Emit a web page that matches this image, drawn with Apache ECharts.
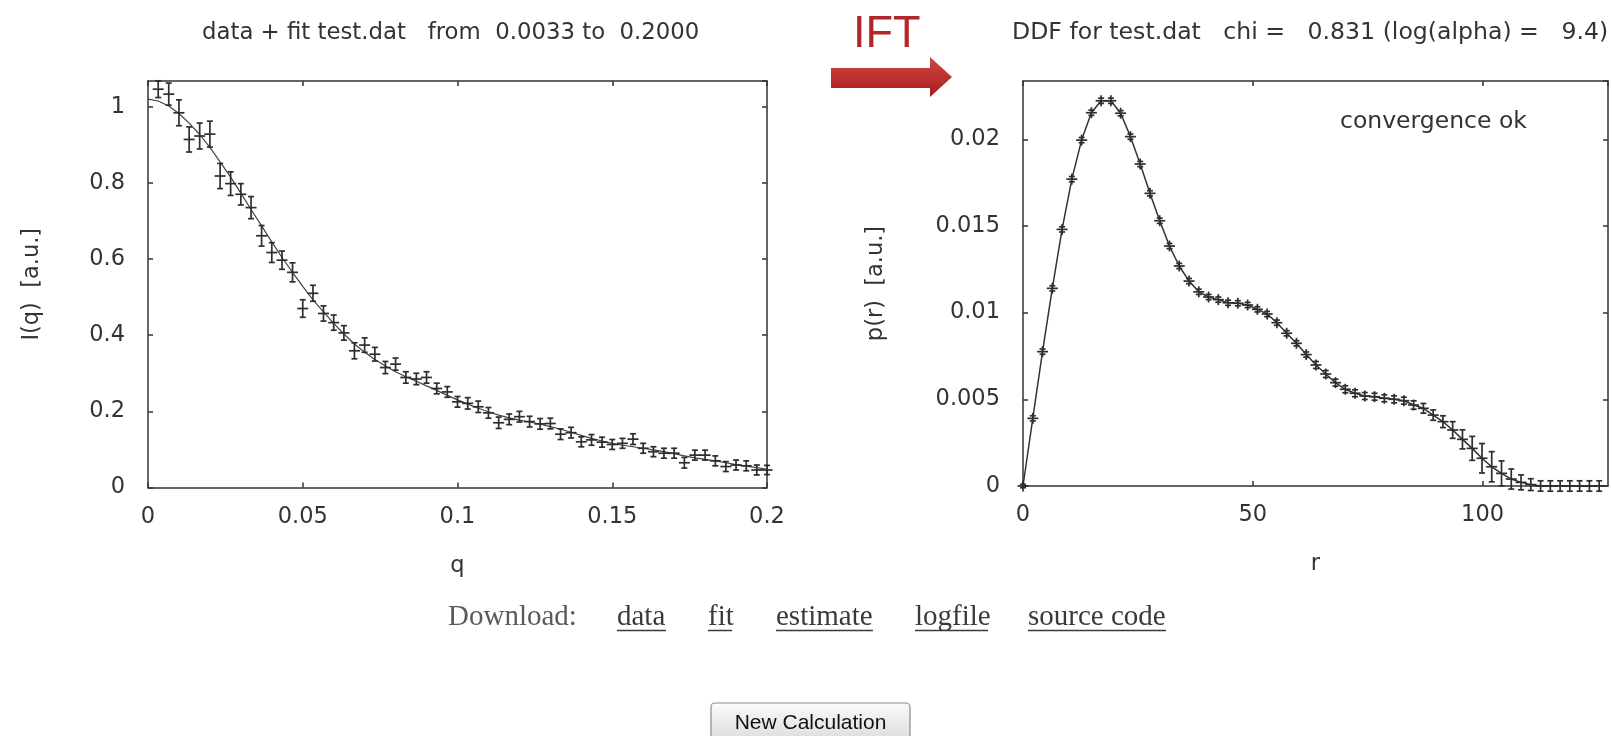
<!DOCTYPE html>
<html>
<head>
<meta charset="utf-8">
<script src="https://cdn.jsdelivr.net/npm/echarts@6/dist/echarts.min.js"></script>
<style>
html,body{margin:0;padding:0;background:#fff;}
#c{width:1612px;height:736px;}
</style>
</head>
<body>
<div id="c"></div>
<script>
// ---- left panel: data + fit ----
const qVals = [0.0033,0.0067,0.0100,0.0133,0.0167,0.0200,0.0233,0.0267,0.0300,0.0333,
  0.0367,0.0400,0.0433,0.0467,0.0500,0.0533,0.0567,0.0600,0.0633,0.0667,
  0.0700,0.0733,0.0767,0.0800,0.0833,0.0867,0.0900,0.0933,0.0967,0.1000,
  0.1033,0.1067,0.1100,0.1133,0.1167,0.1200,0.1233,0.1267,0.1300,0.1333,
  0.1367,0.1400,0.1433,0.1467,0.1500,0.1533,0.1567,0.1600,0.1633,0.1667,
  0.1700,0.1733,0.1767,0.1800,0.1833,0.1867,0.1900,0.1933,0.1967,0.2000];
const iVals = [1.046,1.033,0.984,0.914,0.923,0.928,0.818,0.798,0.770,0.735,
  0.661,0.617,0.597,0.565,0.470,0.510,0.457,0.433,0.406,0.359,
  0.374,0.350,0.315,0.324,0.289,0.285,0.289,0.260,0.251,0.225,
  0.221,0.212,0.196,0.170,0.179,0.186,0.173,0.167,0.168,0.140,
  0.144,0.120,0.125,0.119,0.113,0.116,0.127,0.103,0.094,0.090,
  0.090,0.065,0.085,0.085,0.070,0.055,0.059,0.057,0.046,0.046];
const iErr = [0.022,0.029,0.034,0.033,0.034,0.034,0.033,0.031,0.028,0.029,
  0.027,0.026,0.024,0.025,0.023,0.021,0.020,0.020,0.019,0.021,
  0.019,0.018,0.016,0.016,0.015,0.015,0.015,0.014,0.014,0.014,
  0.015,0.015,0.014,0.015,0.014,0.014,0.014,0.014,0.014,0.014,
  0.014,0.013,0.014,0.013,0.013,0.013,0.014,0.013,0.013,0.013,
  0.013,0.014,0.013,0.013,0.013,0.013,0.013,0.013,0.013,0.012];
const fitQ = [0,0.0033,0.0067,0.0100,0.0133,0.0167,0.0200,0.0233,0.0267,0.0300,0.0333,
  0.0367,0.0400,0.0433,0.0467,0.0500,0.0533,0.0567,0.0600,0.0633,0.0667,
  0.0700,0.0733,0.0767,0.0800,0.0833,0.0867,0.0900,0.0933,0.0967,0.1000,
  0.1033,0.1067,0.1100,0.1133,0.1167,0.1200,0.1233,0.1267,0.1300,0.1333,
  0.1367,0.1400,0.1433,0.1467,0.1500,0.1533,0.1567,0.1600,0.1633,0.1667,
  0.1700,0.1733,0.1767,0.1800,0.1833,0.1867,0.1900,0.1933,0.1967,0.2000];
const fitI = [1.020,1.015,1.002,0.982,0.957,0.927,0.893,0.855,0.815,0.773,0.730,
  0.687,0.645,0.604,0.565,0.528,0.493,0.461,0.431,0.403,0.377,
  0.355,0.336,0.319,0.304,0.291,0.279,0.267,0.255,0.242,0.230,
  0.219,0.208,0.199,0.190,0.183,0.177,0.172,0.166,0.160,0.153,
  0.145,0.137,0.129,0.122,0.116,0.111,0.107,0.103,0.099,0.094,
  0.089,0.083,0.078,0.074,0.070,0.065,0.060,0.056,0.052,0.048];

// ---- right panel: distance distribution ----
const rVals = [0,2.13,4.25,6.38,8.5,10.63,12.75,14.88,17,19.13,
  21.25,23.38,25.5,27.63,29.75,31.88,34,36.13,38.25,40.38,
  42.5,44.63,46.75,48.88,51,53.13,55.25,57.38,59.5,61.63,
  63.75,65.88,68,70.13,72.25,74.38,76.5,78.63,80.75,82.88,
  85,87.13,89.25,91.38,93.5,95.63,97.75,99.88,102,104.13,
  106.25,108.38,110.5,112.63,114.75,116.88,119,121.13,123.25,125.38];
const pVals = [0,0.0039,0.00775,0.0114,0.0148,0.0177,0.01995,0.02153,0.02222,0.02222,
  0.0215,0.02015,0.01857,0.01688,0.0153,0.01384,0.01269,0.01182,0.0112,0.0109,
  0.01075,0.01057,0.01054,0.01044,0.01019,0.00992,0.00942,0.00881,0.00823,0.00758,
  0.00698,0.00646,0.00596,0.00558,0.00535,0.00519,0.00515,0.00506,0.005,0.00492,
  0.00467,0.00448,0.00409,0.00371,0.00323,0.00269,0.00217,0.0016,0.00111,0.00073,
  0.0004,0.00021,0.00008,0,0,0,0,0,0,0];
const pErr = [0.0001,0.00015,0.00015,0.00015,0.00015,0.00015,0.00015,0.00015,0.00015,0.00015,
  0.00015,0.00015,0.00015,0.00015,0.00015,0.00015,0.00015,0.00015,0.00015,0.00015,
  0.00015,0.00015,0.00015,0.00015,0.00015,0.00015,0.00015,0.00015,0.00015,0.00015,
  0.0002,0.0002,0.0002,0.0002,0.0002,0.0002,0.0002,0.0002,0.0002,0.0002,
  0.00024,0.00028,0.0003,0.00034,0.00048,0.00055,0.00069,0.00085,0.00087,0.00072,
  0.00058,0.00043,0.00034,0.0003,0.0003,0.0003,0.0003,0.0003,0.0003,0.0003];

const leftTitle = 'data + fit test.dat   from  0.0033 to  0.2000';
const rightTitle = 'DDF for test.dat   chi =   0.831 (log(alpha) =   9.4)';
const links = ['data', 'fit', 'estimate', 'logfile', 'source code'];

const INK = '#333';
const FONT = 'DejaVu Sans';
const FS = 22.5;

function errRender(params, api) {
  const x = api.value(0), y = api.value(1), e = api.value(2);
  const c = api.coord([x, y]);
  const t = api.coord([x, y + e]);
  const b = api.coord([x, y - e]);
  const arm = 5.5, cap = 3;
  const st = {stroke: '#2e2e2e', lineWidth: 1.7, fill: null};
  return {type: 'group', children: [
    {type: 'line', shape: {x1: c[0] - arm, y1: c[1], x2: c[0] + arm, y2: c[1]}, style: st},
    {type: 'line', shape: {x1: c[0], y1: Math.min(t[1], c[1] - arm), x2: c[0], y2: Math.max(b[1], c[1] + arm)}, style: st},
    {type: 'line', shape: {x1: c[0] - cap, y1: t[1], x2: c[0] + cap, y2: t[1]}, style: st},
    {type: 'line', shape: {x1: c[0] - cap, y1: b[1], x2: c[0] + cap, y2: b[1]}, style: st}
  ]};
}

const lineSt = {color: INK, width: 1.5};
function xAx(grid, max, interval, pos, name) {
  return {
    gridIndex: grid, type: 'value', min: 0, max: max, interval: interval, position: pos,
    axisLine: {show: true, onZero: false, lineStyle: lineSt},
    axisTick: {show: true, inside: true, length: 5, lineStyle: lineSt},
    axisLabel: {show: pos === 'bottom', color: INK, fontFamily: FONT, fontSize: FS, margin: 18, showMaxLabel: max === 0.2, showMinLabel: true},
    splitLine: {show: false},
    name: pos === 'bottom' ? name : '', nameLocation: 'middle', nameGap: 67,
    nameTextStyle: {color: INK, fontFamily: FONT, fontSize: FS}
  };
}
function yAx(grid, max, interval, pos, name, gap) {
  return {
    gridIndex: grid, type: 'value', min: 0, max: max, interval: interval, position: pos,
    axisLine: {show: true, onZero: false, lineStyle: lineSt},
    axisTick: {show: true, inside: true, length: 5, lineStyle: lineSt},
    axisLabel: {show: pos === 'left', color: INK, fontFamily: FONT, fontSize: FS, margin: 23, showMaxLabel: false},
    splitLine: {show: false},
    name: pos === 'left' ? name : '', nameLocation: 'middle', nameGap: gap,
    nameTextStyle: {color: INK, fontFamily: FONT, fontSize: FS}
  };
}

function txt(x, y, text, opts) {
  return {type: 'text', silent: true, style: Object.assign({
    x: x, y: y, text: text, fill: INK, fontFamily: FONT, fontSize: FS,
    align: 'left', verticalAlign: 'middle'}, opts || {})};
}

const chart = echarts.init(document.getElementById('c'), null, {renderer: 'canvas'});

const linkX = [617, 708, 776, 915, 1028];
const linkW = [49, 24, 97, 73, 138];
const graphics = [
  txt(202, 33, leftTitle, {fontSize: 22.8}),
  txt(1012, 33, rightTitle, {fontSize: 23.6}),
  txt(1340, 122, 'convergence ok', {fontSize: 23.5}),
  txt(853, 35, 'IFT', {fontFamily: 'Liberation Sans', fontSize: 45, fill: '#b3262a'}),
  {type: 'polygon', silent: true,
    shape: {points: [[831, 68], [930, 68], [930, 57], [952, 77], [930, 97], [930, 88], [831, 88]]},
    style: {fill: new echarts.graphic.LinearGradient(0, 0, 0, 1, [
      {offset: 0, color: '#cf4a44'}, {offset: 1, color: '#a81c1c'}])}},
  txt(448, 617, 'Download:', {fontFamily: 'Liberation Serif', fontSize: 29, fill: '#5a5a5a'}),
  {type: 'rect', silent: true, shape: {x: 711, y: 703, width: 199, height: 45, r: 4},
    style: {fill: new echarts.graphic.LinearGradient(0, 0, 0, 1, [
      {offset: 0, color: '#fbfbfb'}, {offset: 1, color: '#d6d6d6'}]), stroke: '#8c8c8c', lineWidth: 1.2}},
  txt(810.5, 723, 'New Calculation', {fontFamily: 'Liberation Sans', fontSize: 21, fill: '#111', align: 'center'})
];
links.forEach(function (l, i) {
  graphics.push(txt(linkX[i], 617, l, {fontFamily: 'Liberation Serif', fontSize: 29, fill: '#3a3a3a'}));
  graphics.push({type: 'line', silent: true,
    shape: {x1: linkX[i], y1: 630.5, x2: linkX[i] + linkW[i], y2: 630.5},
    style: {stroke: '#3a3a3a', lineWidth: 1.5}});
});

chart.setOption({
  backgroundColor: '#ffffff',
  animation: false,
  grid: [
    {left: 148, top: 81, width: 619, height: 406.5, containLabel: false},
    {left: 1023, top: 81, width: 585, height: 405, containLabel: false}
  ],
  xAxis: [
    xAx(0, 0.2, 0.05, 'bottom', 'q'),
    xAx(0, 0.2, 0.05, 'top', ''),
    xAx(1, 127.3, 50, 'bottom', 'r'),
    xAx(1, 127.3, 50, 'top', '')
  ],
  yAxis: [
    yAx(0, 1.0675, 0.2, 'left', 'I(q)  [a.u.]', 104),
    yAx(0, 1.0675, 0.2, 'right', '', 0),
    yAx(1, 0.02336, 0.005, 'left', 'p(r)  [a.u.]', 135),
    yAx(1, 0.02336, 0.005, 'right', '', 0)
  ],
  series: [
    {type: 'line', xAxisIndex: 0, yAxisIndex: 0, showSymbol: false, silent: true,
      data: fitQ.map(function (q, i) { return [q, fitI[i]]; }),
      lineStyle: {color: '#444', width: 1.2}, z: 2},
    {type: 'custom', xAxisIndex: 0, yAxisIndex: 0, renderItem: errRender, silent: true,
      data: qVals.map(function (q, i) { return [q, iVals[i], iErr[i]]; }), z: 3},
    {type: 'line', xAxisIndex: 2, yAxisIndex: 2, showSymbol: false, silent: true,
      data: rVals.map(function (r, i) { return [r, pVals[i]]; }),
      lineStyle: {color: INK, width: 1.5}, z: 2},
    {type: 'custom', xAxisIndex: 2, yAxisIndex: 2, renderItem: errRender, silent: true,
      data: rVals.map(function (r, i) { return [r, pVals[i], pErr[i]]; }), z: 3}
  ],
  graphic: graphics
});
</script>
</body>
</html>
